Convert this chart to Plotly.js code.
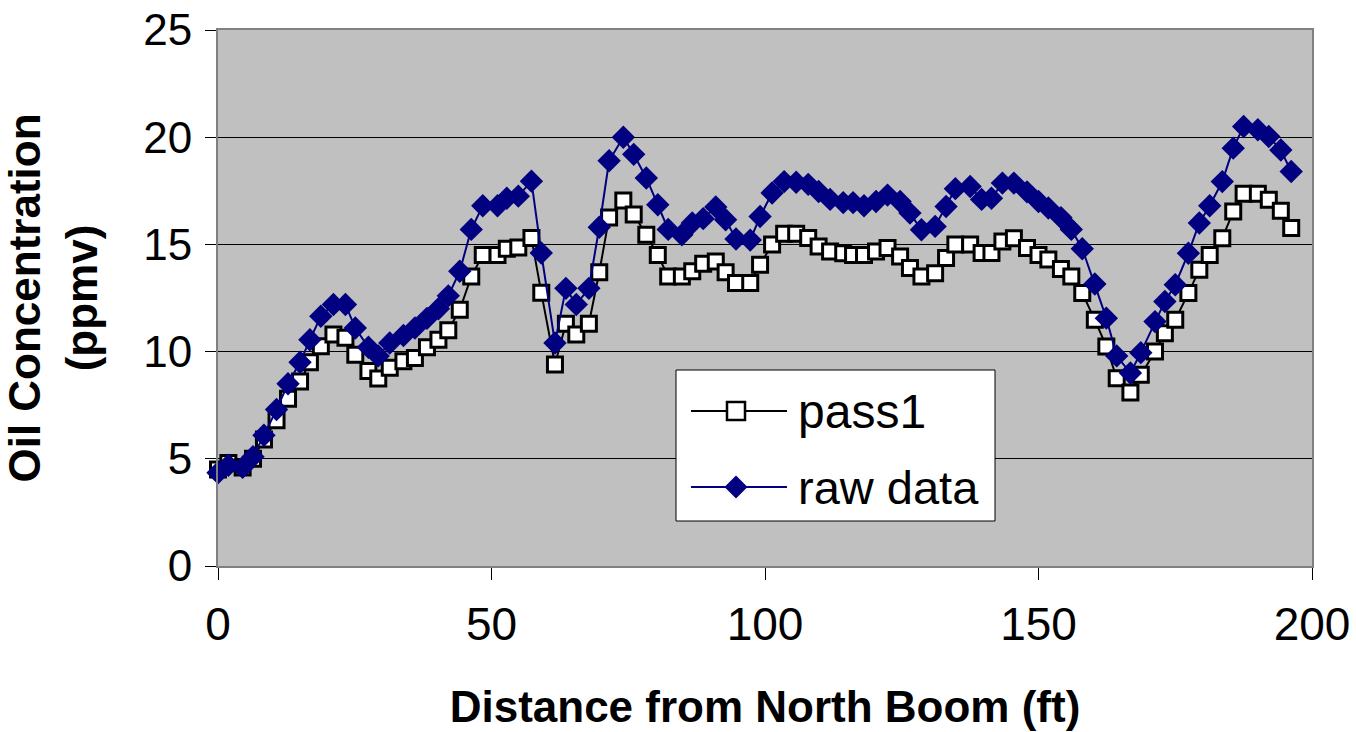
<!DOCTYPE html>
<html>
<head>
<meta charset="utf-8">
<script src="https://cdn.plot.ly/plotly-3.0.1.min.js"></script>
<style>
  html, body { margin: 0; padding: 0; background: #ffffff; }
  #chart { width: 1356px; height: 732px; }
</style>
</head>
<body>
<div id="chart"></div>
<script>
// Distance from North Boom (ft)
const distance = [0.0,1.9,4.5,6.4,8.4,10.7,12.8,15.0,16.8,18.8,21.1,23.3,25.1,27.5,29.3,31.4,33.9,36.0,38.2,40.3,42.1,44.2,46.3,48.4,51.1,52.8,54.9,57.3,
  59.1,61.6,63.6,65.5,67.8,69.7,71.5,74.1,76.0,78.3,
  80.4,82.3,84.8,86.7,88.7,91.0,92.8,94.7,97.3,99.1,101.3,103.5,105.7,107.9,109.8,111.9,114.3,116.1,118.1,120.3,122.4,124.7,126.5,128.6,131.1,133.1,134.8,
  137.5,139.6,141.4,143.4,145.5,147.9,150.0,151.8,154.1,156.0,158.0,160.3,162.4,164.3,166.8,168.7,171.3,173.1,175.0,177.4,179.4,181.3,183.6,185.6,187.5,190.1,192.1,194.3,196.2];

// Oil concentration (ppmv), series "pass1"
const pass1 = [4.5,4.8,4.6,5.0,5.9,6.8,7.8,8.6,9.5,10.25,10.8,10.65,9.85,9.1,8.75,9.25,9.55,9.7,10.2,10.55,11.0,11.95,13.5,14.5,14.5,14.8,14.85,15.3,
  12.75,9.4,11.3,10.8,11.3,13.7,16.25,17.05,16.4,15.45,
  14.5,13.5,13.5,13.75,14.1,14.2,13.7,13.2,13.2,14.05,15.0,15.5,15.5,15.3,14.9,14.67,14.59,14.51,14.51,14.67,14.83,14.44,13.9,13.5,13.66,14.36,15.0,
  15.0,14.6,14.6,15.13,15.29,14.83,14.5,14.3,13.85,13.5,12.73,11.48,10.24,8.76,8.09,8.92,10.0,10.86,11.48,12.73,13.82,14.51,15.29,16.53,17.36,17.36,17.08,16.57,15.76];

// Oil concentration (ppmv), series "raw data"
const rawData = [4.35,4.7,4.6,5.1,6.1,7.3,8.5,9.5,10.55,11.65,12.2,12.2,11.1,10.2,9.8,10.4,10.75,11.1,11.55,12.0,12.6,13.75,15.7,16.8,16.8,17.15,17.25,17.95,
  14.6,10.4,12.95,12.2,12.95,15.8,18.9,20.0,19.2,18.1,
  16.85,15.7,15.45,16.0,16.2,16.75,16.15,15.25,15.2,16.3,17.4,17.93,17.9,17.8,17.47,17.1,16.95,16.95,16.8,17.0,17.3,17.0,16.46,15.68,15.84,16.77,17.6,
  17.7,17.1,17.15,17.86,17.86,17.45,17.0,16.7,16.25,15.7,14.8,13.15,11.56,9.8,9.0,9.95,11.4,12.34,13.12,14.59,16.0,16.8,17.93,19.49,20.5,20.35,20.03,19.4,18.4];

const seriesNames = ['pass1', 'raw data'];
const xTitle = 'Distance from North Boom (ft)';
const yTitle = 'Oil Concentration<br>(ppmv)';

const FONT = 'Liberation Sans, Arial, Helvetica, sans-serif';
const NAVY = '#000080';

// plot-area geometry (pixels) used only to place the hand-drawn legend box
const L = 218, R = 44, T = 30, B = 166, W = 1356, H = 732;
const PW = W - L - R, PH = H - T - B;
const px = v => (v - L) / PW;
const py = v => (H - B - v) / PH;

const traces = [
  {
    x: distance, y: pass1, name: seriesNames[0], type: 'scatter', mode: 'lines+markers',
    line: { color: '#000000', width: 2 },
    marker: { symbol: 'square', size: 15, color: '#ffffff', line: { color: '#000000', width: 3 } },
    cliponaxis: false, showlegend: false
  },
  {
    x: distance, y: rawData, name: seriesNames[1], type: 'scatter', mode: 'lines+markers',
    line: { color: NAVY, width: 2 },
    marker: { symbol: 'diamond', size: 18, color: NAVY, line: { color: NAVY, width: 0 } },
    cliponaxis: false, showlegend: false
  }
];

// legend drawn as decorations
const legX0 = 676, legX1 = 995, legY0 = 370, legY1 = 521;
const row1 = 411, row2 = 487, symL = 691, symR = 787, symC = 736, textX = 796;
const sq = 9, dm = 11.5;
const shapes = [
  { type: 'rect', xref: 'paper', yref: 'paper', x0: px(legX0), x1: px(legX1), y0: py(legY1), y1: py(legY0),
    fillcolor: '#ffffff', line: { color: '#000000', width: 1 }, layer: 'above' },
  { type: 'line', xref: 'paper', yref: 'paper', x0: px(symL), x1: px(symR), y0: py(row1), y1: py(row1),
    line: { color: '#000000', width: 2 }, layer: 'above' },
  { type: 'rect', xref: 'paper', yref: 'paper', x0: px(symC - sq), x1: px(symC + sq), y0: py(row1 + sq), y1: py(row1 - sq),
    fillcolor: '#ffffff', line: { color: '#000000', width: 2.5 }, layer: 'above' },
  { type: 'line', xref: 'paper', yref: 'paper', x0: px(symL), x1: px(symR), y0: py(row2), y1: py(row2),
    line: { color: NAVY, width: 2 }, layer: 'above' },
  { type: 'path', xref: 'paper', yref: 'paper',
    path: 'M ' + px(symC - dm) + ' ' + py(row2) + ' L ' + px(symC) + ' ' + py(row2 - dm) + ' L ' + px(symC + dm) + ' ' + py(row2) + ' L ' + px(symC) + ' ' + py(row2 + dm) + ' Z',
    fillcolor: NAVY, line: { color: NAVY, width: 0 }, layer: 'above' }
];

const annotations = [
  { xref: 'paper', yref: 'paper', x: px(textX), y: py(row1), xanchor: 'left', yanchor: 'middle', showarrow: false,
    text: seriesNames[0], font: { family: FONT, size: 48, color: '#000000' } },
  { xref: 'paper', yref: 'paper', x: px(textX), y: py(row2), xanchor: 'left', yanchor: 'middle', showarrow: false,
    text: seriesNames[1], font: { family: FONT, size: 47, color: '#000000' } }
];

const layout = {
  width: W, height: H,
  margin: { l: L, r: R, t: T, b: B, pad: 0 },
  paper_bgcolor: '#ffffff',
  plot_bgcolor: '#c0c0c0',
  showlegend: false,
  font: { family: FONT, color: '#000000' },
  xaxis: {
    range: [0, 200], tick0: 0, dtick: 50, tickmode: 'linear',
    showgrid: false, zeroline: false,
    showline: true, linecolor: '#808080', linewidth: 2, mirror: true,
    ticks: 'outside', ticklen: 12, tickwidth: 1, tickcolor: '#000000',
    tickfont: { family: FONT, size: 46, color: '#000000' },
    ticklabelstandoff: 5,
    title: { text: '<b>' + xTitle + '</b>', font: { family: FONT, size: 44, color: '#000000' }, standoff: 42 },
    automargin: false
  },
  yaxis: {
    range: [0, 25], tick0: 0, dtick: 5, tickmode: 'linear',
    showgrid: true, gridcolor: '#000000', gridwidth: 1, zeroline: false,
    showline: true, linecolor: '#808080', linewidth: 2, mirror: true,
    ticks: 'outside', ticklen: 11, tickwidth: 1, tickcolor: '#000000',
    tickfont: { family: FONT, size: 44, color: '#000000' },
    ticklabelstandoff: 4,
    title: { text: '<b>' + yTitle + '</b>', font: { family: FONT, size: 44, color: '#000000' }, standoff: 32 },
    automargin: false
  },
  shapes: shapes,
  annotations: annotations
};

Plotly.newPlot('chart', traces, layout, { displayModeBar: false, staticPlot: true });
</script>
</body>
</html>
